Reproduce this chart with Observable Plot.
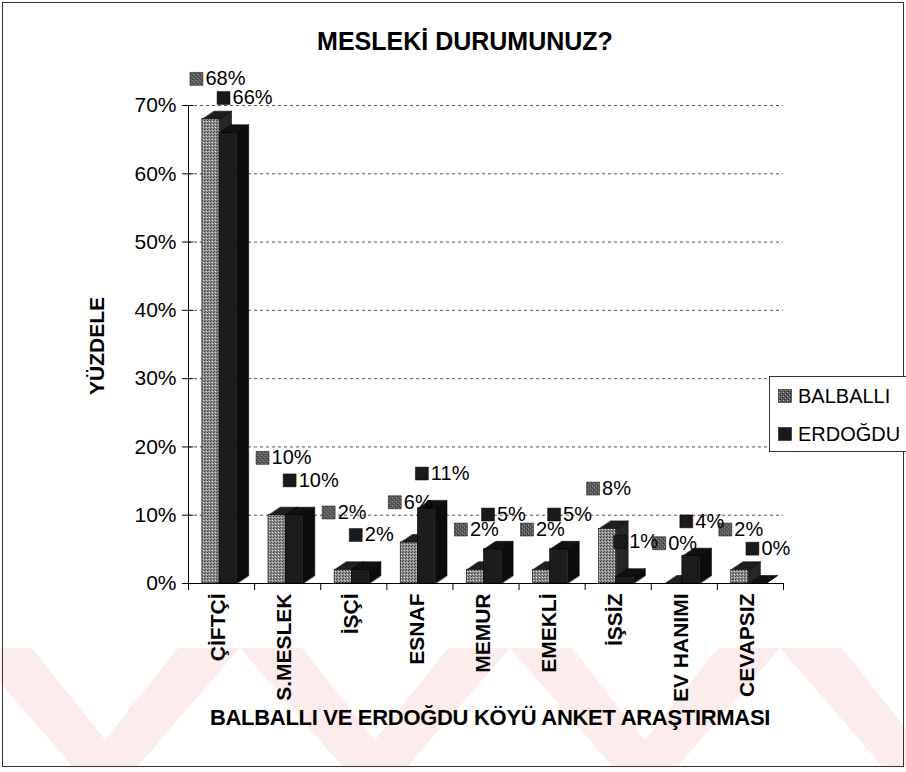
<!DOCTYPE html>
<html>
<head>
<meta charset="utf-8">
<script src="https://cdn.jsdelivr.net/npm/d3@7"></script>
<script src="https://cdn.jsdelivr.net/npm/@observablehq/plot@0.6"></script>
<style>
  body { margin: 0; background: #fff; font-family: "Liberation Sans", Arial, sans-serif; }
  #wrap { position: relative; width: 906px; height: 772px; overflow: hidden; background: #fff; }
  #wm { position: absolute; left: 0; top: 648px; width: 906px; height: 118px;
        background-image: url("data:image/svg+xml;utf8,<svg xmlns='http://www.w3.org/2000/svg' width='270' height='118'><polygon points='0,0 62,0 135,92 208,0 270,0 168,118 102,118' fill='%23fdecec'/></svg>");
        background-repeat: repeat-x; background-position: -30px 0; }
  #frame { position: absolute; left: 2px; top: 2px; width: 900px; height: 763px; border: 1px solid #333; }
  #chart { position: absolute; left: 0; top: 0; }
  .title { position: absolute; left: 0; width: 930px; text-align: center; top: 27px;
           font-weight: bold; font-size: 25px; line-height: 28px; color: #000; }
  .ylab { position: absolute; left: 97px; top: 346px; transform: translate(-50%, -50%) rotate(-90deg);
          font-weight: bold; font-size: 21px; white-space: nowrap; color: #000; }
  .xlab { position: absolute; left: 0; width: 980px; text-align: center; top: 705px;
          font-weight: bold; font-size: 22px; line-height: 26px; letter-spacing: -0.3px; color: #000; }
  #legend { position: absolute; left: 769px; top: 376px; width: 140px; height: 74px;
            border: 1px solid #333; background: #fff; }
  .li { position: absolute; left: 8px; height: 24px; display: flex; align-items: center;
        font-size: 20px; white-space: nowrap; color: #000; }
  .sw { width: 14px; height: 14px; margin-right: 6px; }
</style>
</head>
<body>
<div id="wrap">
  <div id="wm"></div>
  <div id="frame"></div>
  <div id="chart"></div>
  <div class="title" id="title"></div>
  <div class="ylab" id="ylab"></div>
  <div class="xlab" id="xlab"></div>
  <div id="legend"></div>
</div>
<script>
// ---- data ----
const categories = ["ÇİFTÇİ", "S.MESLEK", "İŞÇİ", "ESNAF", "MEMUR", "EMEKLİ", "İŞSİZ", "EV HANIMI", "CEVAPSIZ"];
const seriesNames = ["BALBALLI", "ERDOĞDU"];
const balballi = [68, 10, 2, 6, 2, 2, 8, 0, 2];
const erdogdu  = [66, 10, 2, 11, 5, 5, 1, 4, 0];
const yTicks = [0, 10, 20, 30, 40, 50, 60, 70];
const titleText = "MESLEKİ DURUMUNUZ?";
const yTitle = "YÜZDELE";
const xTitle = "BALBALLI VE ERDOĞDU KÖYÜ ANKET ARAŞTIRMASI";

// ---- layout / style (not data) ----
const barStart = [0.21, 0.47];   // offset of each series' front face within a category band
const barW = 0.26;               // front face width (band units)
const depthX = 0.18;             // 3D depth, band units
const depthY = 1.17;             // 3D depth, percent units
const labelX = [0.12, 0.53];
const labelLift = [5.9, 5.1];    // label lift above the bar, percent units
const frontFill = ["url(#balPat)", "#1c1c1c"];
const topFill = ["#1e1e1e", "#111"];
const sideFill = ["#262626", "#0c0c0c"];
const swatch = ["url(#balSw)", "#1a1a1a"];

const series = [balballi, erdogdu];

function fronts(vals, k) {
  return vals.map((v, i) => ({x1: i + barStart[k], x2: i + barStart[k] + barW, v}));
}
function tops(vals, k) {
  return vals.flatMap((v, i) => {
    const x1 = i + barStart[k], x2 = x1 + barW, id = k + "-t-" + i;
    return [[x1, v], [x2, v], [x2 + depthX, v + depthY], [x1 + depthX, v + depthY]].map(([x, y]) => ({id, x, y}));
  });
}
function sides(vals, k) {
  return vals.flatMap((v, i) => {
    const x2 = i + barStart[k] + barW, id = k + "-s-" + i;
    return [[x2, 0], [x2, v], [x2 + depthX, v + depthY], [x2 + depthX, depthY]].map(([x, y]) => ({id, x, y}));
  });
}
// label positions: above each bar; when the two labels of one category would collide, lift the first one
function labels(k) {
  return series[k].map((v, i) => {
    let ly = v + labelLift[k];
    if (k === 0) {
      const other = erdogdu[i] + labelLift[1];
      if (v >= erdogdu[i] && Math.abs(ly - other) < 2.5) ly = other + 3.3;
    }
    return {x: i + labelX[k], v, ly};
  });
}

const marks = [
  Plot.ruleY(yTicks.filter(d => d > 0), {stroke: "#555", strokeDasharray: "3,3", strokeWidth: 1})
];
series.forEach((vals, k) => {
  marks.push(
    Plot.line(sides(vals, k), {x: "x", y: "y", z: "id", curve: "linear-closed", fill: sideFill[k], stroke: "#000", strokeWidth: 0.6}),
    Plot.line(tops(vals, k), {x: "x", y: "y", z: "id", curve: "linear-closed", fill: topFill[k], stroke: "#000", strokeWidth: 0.6}),
    Plot.rect(fronts(vals, k), {x1: "x1", x2: "x2", y1: 0, y2: "v", fill: frontFill[k], stroke: "#000", strokeWidth: 0.6})
  );
});
marks.push(
  Plot.ruleY([0], {stroke: "#000", strokeWidth: 1}),
  Plot.ruleX([0], {stroke: "#000", strokeWidth: 1}),
  Plot.ruleY(yTicks, {x1: 0, x2: 0.08, stroke: "#000"}),
  Plot.axisY({ticks: yTicks, tickFormat: d => d + "%", tickSize: 6, tickPadding: 6, fontSize: 21, label: null}),
  Plot.axisX({ticks: d3.range(10), tickFormat: () => "", tickSize: 7, label: null}),
  Plot.text(categories, {x: (d, i) => i + 0.5, y: 0, text: d => d, rotate: -90, textAnchor: "end",
    dy: 10, dx: -3, fontSize: 21, fontWeight: "bold", fill: "#000"})
);
series.forEach((vals, k) => {
  const L = labels(k);
  marks.push(
    Plot.dot(L, {x: "x", y: "ly", symbol: "square", r: 7.3, fill: swatch[k], stroke: "#000", strokeWidth: 0.5}),
    Plot.text(L, {x: "x", y: "ly", dx: 9, text: d => d.v + "%", textAnchor: "start", fontSize: 20, fill: "#000"})
  );
});

const svg = Plot.plot({
  width: 906,
  height: 772,
  marginLeft: 188,
  marginRight: 123,
  marginTop: 105,
  marginBottom: 189,
  x: {domain: [0, 9], axis: null},
  y: {domain: [0, 70], axis: null},
  style: {fontFamily: "'Liberation Sans', Arial, sans-serif", fontSize: "21px", color: "#000", background: "transparent", overflow: "visible"},
  marks
});

const defs = `
  <pattern id="balPat" patternUnits="userSpaceOnUse" width="3" height="3">
    <rect width="3" height="3" fill="#8e8e8e"/>
    <rect x="0" y="0" width="1" height="1" fill="#3a3a3a"/>
    <rect x="2" y="1" width="1" height="1" fill="#d8d8d8"/>
    <rect x="1" y="2" width="1" height="1" fill="#555"/>
  </pattern>
  <pattern id="balSw" patternUnits="userSpaceOnUse" width="4" height="4">
    <rect width="4" height="4" fill="#5a5a5a"/>
    <rect x="0" y="0" width="1" height="1" fill="#1a1a1a"/>
    <rect x="2" y="2" width="1" height="1" fill="#222"/>
    <rect x="1" y="3" width="1" height="1" fill="#bbb"/>
    <rect x="3" y="1" width="1" height="1" fill="#aaa"/>
  </pattern>`;
d3.select(svg).insert("defs", ":first-child").html(defs);
document.getElementById("chart").appendChild(svg);

document.getElementById("title").textContent = titleText;
document.getElementById("ylab").textContent = yTitle;
document.getElementById("xlab").textContent = xTitle;

// legend
const legend = document.getElementById("legend");
seriesNames.forEach((name, k) => {
  const item = document.createElement("div");
  item.className = "li";
  item.style.top = (k === 0 ? 7 : 45) + "px";
  const sw = document.createElementNS("http://www.w3.org/2000/svg", "svg");
  sw.setAttribute("class", "sw");
  sw.setAttribute("width", 14);
  sw.setAttribute("height", 14);
  sw.innerHTML = `<defs>${defs}</defs><rect x="0.5" y="0.5" width="13" height="13" fill="${k === 0 ? "url(#balSw" + k + ")" : swatch[k]}" stroke="#000" stroke-width="0.5"/>`;
  if (k === 0) sw.querySelector("#balSw").id = "balSw0";
  sw.querySelector("#balPat").remove();
  item.appendChild(sw);
  const t = document.createElement("span");
  t.textContent = name;
  item.appendChild(t);
  legend.appendChild(item);
});
</script>
</body>
</html>
